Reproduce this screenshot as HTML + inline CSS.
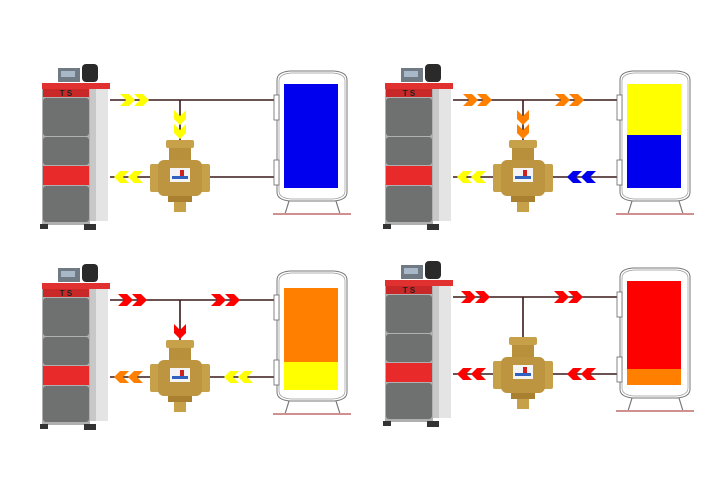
<!DOCTYPE html>
<html><head><meta charset="utf-8"><style>html,body{margin:0;padding:0;background:#fff}svg{display:block}</style></head><body>
<svg width="710" height="500" viewBox="0 0 710 500" xmlns="http://www.w3.org/2000/svg" font-family="Liberation Sans, sans-serif">
<defs>
<g id="boiler">
  <rect x="58" y="68" width="22" height="14" fill="#6f7a84"/>
  <rect x="61" y="71" width="14" height="6" fill="#a8b8c8"/>
  <rect x="82" y="64" width="16" height="18" rx="4" fill="#2a2a2a"/>
  <rect x="42" y="83" width="68" height="6" fill="#e03030"/>
  <rect x="90" y="89" width="18" height="132" fill="#c8c8c8"/>
  <rect x="96" y="89" width="12" height="132" fill="#e4e4e4"/>
  <rect x="42" y="89" width="48" height="136" fill="#b0b0b0"/>
  <rect x="43" y="89" width="46" height="8" fill="#c82828"/>
  <rect x="43" y="98" width="46" height="38" rx="3" fill="#6e716f"/>
  <rect x="43" y="137" width="46" height="28" rx="3" fill="#6e716f"/>
  <rect x="43" y="166" width="46" height="19" fill="#e82a2a"/>
  <rect x="43" y="186" width="46" height="36" rx="3" fill="#6e716f"/>
  <text x="66" y="96" font-size="8" font-weight="bold" text-anchor="middle" fill="#222">T S</text>
  <rect x="40" y="224" width="8" height="5" fill="#333"/>
  <rect x="84" y="224" width="12" height="6" fill="#333"/>
</g>
<g id="valve">
  <rect x="166" y="140" width="28" height="8" rx="2" fill="#c7a04a"/>
  <rect x="169" y="148" width="22" height="14" fill="#b8903c"/>
  <rect x="150" y="164" width="10" height="28" rx="2" fill="#c7a04a"/>
  <rect x="200" y="164" width="10" height="28" rx="2" fill="#c7a04a"/>
  <rect x="158" y="160" width="44" height="36" rx="6" fill="#bd9540"/>
  <rect x="168" y="196" width="24" height="6" fill="#a88030"/>
  <rect x="174" y="202" width="12" height="10" fill="#c7a04a"/>
  <rect x="170" y="168" width="20" height="14" fill="#f4f4f4"/>
  <rect x="172" y="176" width="16" height="3" fill="#3060c0"/>
  <rect x="180" y="170" width="4" height="6" fill="#d02020"/>
</g>
<g id="tank">
  <path d="M277,80 Q277,72 290,71 L334,71 Q347,72 347,80 L347,192 Q347,200 334,201 L290,201 Q277,200 277,192 Z" fill="#fff" stroke="#777" stroke-width="1"/>
  <path d="M279,81 Q279,74 291,73 L333,73 Q345,74 345,81 L345,191 Q345,198 333,199 L291,199 Q279,198 279,191 Z" fill="none" stroke="#999" stroke-width="0.7"/>
  <rect x="274" y="95" width="5" height="25" fill="#fff" stroke="#666" stroke-width="0.8"/>
  <rect x="274" y="160" width="5" height="25" fill="#fff" stroke="#666" stroke-width="0.8"/>
  <path d="M289,201 L285,214 M336,201 L340,214" stroke="#777" stroke-width="1.2"/>
  <rect x="273" y="213" width="78" height="2" fill="#d09090"/>
</g>
<path id="cr" d="M0,-6 L9,-6 L15,0 L9,6 L0,6 L6,0Z"/>
<path id="cl" d="M15,-6 L6,-6 L0,0 L6,6 L15,6 L9,0Z"/>
<path id="cd" d="M-6,0 L-6,9 L0,15 L6,9 L6,0 L0,6Z"/>
<g id="pipes" stroke="#3a1a1a" stroke-width="1.6" fill="none">
  <path d="M110,100 L275,100 M180,100 L180,140 M110,177 L150,177 M210,177 L275,177"/>
</g>
</defs>

<!-- TL -->
<g>
  <use href="#pipes"/><use href="#boiler"/>
  <use href="#tank"/>
  <rect x="284" y="84" width="54" height="104" fill="#0000ee"/>
  <use href="#valve"/>
  <g fill="#ffff00"><use href="#cr" x="120" y="100"/><use href="#cr" x="134" y="100"/>
  <use href="#cd" x="180" y="110"/><use href="#cd" x="180" y="124"/>
  <use href="#cl" x="114" y="177"/><use href="#cl" x="128" y="177"/></g>
</g>
<!-- TR -->
<g transform="translate(343,0)">
  <use href="#pipes"/><use href="#boiler"/><use href="#tank"/>
  <rect x="284" y="84" width="54" height="51" fill="#ffff00"/>
  <rect x="284" y="135" width="54" height="53" fill="#0000ee"/>
  <use href="#valve"/>
  <g fill="#ff8000"><use href="#cr" x="120" y="100"/><use href="#cr" x="134" y="100"/>
  <use href="#cr" x="212" y="100"/><use href="#cr" x="226" y="100"/>
  <use href="#cd" x="180" y="110"/><use href="#cd" x="180" y="124"/></g>
  <g fill="#ffff00"><use href="#cl" x="114" y="177"/><use href="#cl" x="128" y="177"/></g>
  <g fill="#0000ee"><use href="#cl" x="224" y="177"/><use href="#cl" x="238" y="177"/></g>
</g>
<!-- BL -->
<g transform="translate(0,200)">
  <use href="#pipes"/><use href="#boiler"/><use href="#tank"/>
  <rect x="284" y="88" width="54" height="74" fill="#ff8000"/>
  <rect x="284" y="162" width="54" height="28" fill="#ffff00"/>
  <use href="#valve"/>
  <g fill="#ff0000"><use href="#cr" x="118" y="100"/><use href="#cr" x="132" y="100"/>
  <use href="#cr" x="211" y="100"/><use href="#cr" x="225" y="100"/>
  <use href="#cd" x="180" y="124"/></g>
  <g fill="#ff8000"><use href="#cl" x="114" y="177"/><use href="#cl" x="128" y="177"/></g>
  <g fill="#ffff00"><use href="#cl" x="224" y="177"/><use href="#cl" x="238" y="177"/></g>
</g>
<!-- BR -->
<g transform="translate(343,197)">
  <use href="#pipes"/><use href="#boiler"/><use href="#tank"/>
  <rect x="284" y="84" width="54" height="88" fill="#ff0000"/>
  <rect x="284" y="172" width="54" height="16" fill="#ff8000"/>
  <use href="#valve"/>
  <g fill="#ff0000"><use href="#cr" x="118" y="100"/><use href="#cr" x="132" y="100"/>
  <use href="#cr" x="211" y="100"/><use href="#cr" x="225" y="100"/>
  <use href="#cl" x="114" y="177"/><use href="#cl" x="128" y="177"/>
  <use href="#cl" x="224" y="177"/><use href="#cl" x="238" y="177"/></g>
</g>
</svg>
</body></html>
